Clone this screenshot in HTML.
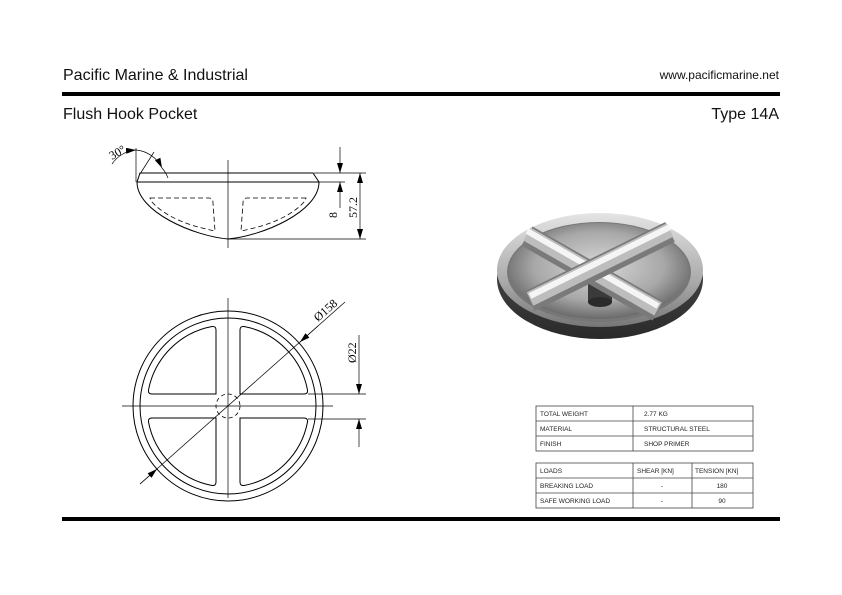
<!DOCTYPE html>
<html><head><meta charset="utf-8"><style>
html,body{margin:0;padding:0;background:#fff;width:842px;height:595px;overflow:hidden}
svg{display:block;font-family:"Liberation Sans",sans-serif}
</style></head><body>
<svg width="842" height="595" viewBox="0 0 842 595" xmlns="http://www.w3.org/2000/svg">
<defs>
<radialGradient id="dish" cx="0.5" cy="0.45" r="0.6">
<stop offset="0" stop-color="#d8d8d8"/><stop offset="0.6" stop-color="#a8a8a8"/><stop offset="1" stop-color="#5a5a5a"/></radialGradient>
<linearGradient id="rim" x1="0" y1="0" x2="0" y2="1">
<stop offset="0" stop-color="#e4e4e4"/><stop offset="0.6" stop-color="#aaa"/><stop offset="1" stop-color="#777"/></linearGradient>
<linearGradient id="base" x1="0" y1="0" x2="0" y2="1">
<stop offset="0" stop-color="#555"/><stop offset="1" stop-color="#2a2a2a"/></linearGradient>
<marker id="ar" viewBox="0 0 10 6" refX="10" refY="3" markerWidth="10" markerHeight="6" orient="auto" markerUnits="userSpaceOnUse">
<path d="M0,0 L10,3 L0,6 z" fill="#000"/></marker>
</defs>

<text x="63" y="80" font-size="16" fill="#111">Pacific Marine &amp; Industrial</text>
<text x="779" y="79" font-size="12" fill="#111" text-anchor="end">www.pacificmarine.net</text>
<rect x="62" y="92" width="718" height="4" fill="#000"/>
<text x="63" y="119" font-size="16" fill="#111">Flush Hook Pocket</text>
<text x="779" y="119" font-size="16" fill="#111" text-anchor="end">Type 14A</text>
<rect x="62" y="517" width="718" height="4" fill="#000"/>

<g fill="none" stroke="#000" stroke-width="1">
<path d="M140,173 L313,173 L319,182 C319,212 262,236 228,239 C194,236 137,212 137,182 Z"/>
<line x1="137" y1="182" x2="319" y2="182"/>
<line x1="228" y1="160" x2="228" y2="248" stroke-width="0.7"/>
<path d="M150,198 L209,198 Q213,198 213,203 L215,231 Q170,222 152,202 Z" stroke-dasharray="5,3" stroke-width="0.8"/>
<path d="M306,198 L247,198 Q243,198 243,203 L241,231 Q286,222 304,202 Z" stroke-dasharray="5,3" stroke-width="0.8"/>
<line x1="136" y1="148" x2="136" y2="182" stroke-width="0.7"/>
<line x1="140" y1="174" x2="154" y2="152" stroke-width="0.7"/>
<path d="M112,164 A32,32 0 0 1 136,150" stroke-width="0.7" marker-end="url(#ar)"/>
<path d="M136,150 A32,32 0 0 1 162,168" stroke-width="0.7" marker-end="url(#ar)"/>
<path d="M162,168 A32,32 0 0 1 168,178" stroke-width="0.7"/>
<line x1="314" y1="173" x2="366" y2="173" stroke-width="0.7"/>
<line x1="319" y1="182" x2="345" y2="182" stroke-width="0.7"/>
<line x1="228" y1="239" x2="366" y2="239" stroke-width="0.7"/>
<line x1="340" y1="147" x2="340" y2="173" stroke-width="0.7" marker-end="url(#ar)"/>
<line x1="340" y1="208" x2="340" y2="182" stroke-width="0.7" marker-end="url(#ar)"/>
<line x1="360" y1="205" x2="360" y2="173" stroke-width="0.7" marker-end="url(#ar)"/>
<line x1="360" y1="205" x2="360" y2="239" stroke-width="0.7" marker-end="url(#ar)"/>

<circle cx="228" cy="406" r="95"/>
<circle cx="228" cy="406" r="88"/>
<g id="q">
<path d="M240,394 L240,330 Q240,326 244,326.5 A80,80 0 0 1 307.5,390 Q308,394 304,394 Z"/>
</g>
<use href="#q" transform="translate(456,0) scale(-1,1)"/>
<use href="#q" transform="translate(0,812) scale(1,-1)"/>
<use href="#q" transform="translate(456,812) scale(-1,-1)"/>
<circle cx="228" cy="406" r="12" stroke-dasharray="4,3" stroke-width="0.8"/>
<line x1="122" y1="406" x2="333" y2="406" stroke-width="0.7"/>
<line x1="228" y1="298" x2="228" y2="498" stroke-width="0.7"/>
<line x1="140" y1="484" x2="345" y2="302" stroke-width="0.7"/>
<line x1="318" y1="326" x2="300" y2="342" stroke-width="0.7" marker-end="url(#ar)"/>
<line x1="140" y1="484" x2="157" y2="469" stroke-width="0.7" marker-end="url(#ar)"/>
<line x1="308" y1="394" x2="366" y2="394" stroke-width="0.7"/>
<line x1="308" y1="419" x2="366" y2="419" stroke-width="0.7"/>
<line x1="359" y1="335" x2="359" y2="394" stroke-width="0.7" marker-end="url(#ar)"/>
<line x1="359" y1="447" x2="359" y2="419" stroke-width="0.7" marker-end="url(#ar)"/>
</g>
<text transform="translate(112,160) rotate(-30)" font-family="Liberation Serif" font-size="12">30°</text>
<text transform="translate(337,218) rotate(-90)" font-family="Liberation Serif" font-size="12">8</text>
<text transform="translate(357,218) rotate(-90)" font-family="Liberation Serif" font-size="12">57.2</text>
<text transform="translate(318,322) rotate(-41)" font-family="Liberation Serif" font-size="12">Ø158</text>
<text transform="translate(356,363) rotate(-90)" font-family="Liberation Serif" font-size="12">Ø22</text>

<ellipse cx="600" cy="279" rx="103" ry="60" fill="url(#base)"/>
<ellipse cx="600" cy="270" rx="103" ry="57" fill="url(#rim)"/>
<ellipse cx="599" cy="272" rx="92" ry="50" fill="#777"/>
<ellipse cx="599" cy="271" rx="90" ry="48" fill="url(#dish)"/>
<rect x="588" y="282" width="24" height="20" fill="#3a3a3a"/>
<ellipse cx="600" cy="302" rx="12" ry="5" fill="#2a2a2a"/>
<g stroke-linecap="butt">
<line x1="527" y1="236" x2="658" y2="311" stroke="#7a7a7a" stroke-width="22"/>
<line x1="527" y1="234" x2="658" y2="309" stroke="#bdbdbd" stroke-width="15"/>
<line x1="527" y1="231" x2="658" y2="306" stroke="#f5f5f5" stroke-width="6"/>
<line x1="670" y1="232" x2="530" y2="301" stroke="#7a7a7a" stroke-width="22"/>
<line x1="670" y1="230" x2="530" y2="299" stroke="#bdbdbd" stroke-width="15"/>
<line x1="670" y1="227" x2="530" y2="296" stroke="#f5f5f5" stroke-width="6"/>
</g>

<g fill="none" stroke="#444" stroke-width="0.8">
<rect x="536" y="406" width="217" height="45"/>
<line x1="536" y1="421" x2="753" y2="421"/><line x1="536" y1="436" x2="753" y2="436"/>
<line x1="633" y1="406" x2="633" y2="451"/>
<rect x="536" y="463" width="217" height="45"/>
<line x1="536" y1="478" x2="753" y2="478"/><line x1="536" y1="493" x2="753" y2="493"/>
<line x1="633" y1="463" x2="633" y2="508"/><line x1="692" y1="463" x2="692" y2="508"/>
</g>
<g font-size="6.5" fill="#222">
<text x="540" y="416">TOTAL WEIGHT</text><text x="644" y="416">2.77 KG</text>
<text x="540" y="431">MATERIAL</text><text x="644" y="431">STRUCTURAL STEEL</text>
<text x="540" y="446">FINISH</text><text x="644" y="446">SHOP PRIMER</text>
<text x="540" y="473">LOADS</text><text x="637" y="473">SHEAR [KN]</text><text x="695" y="473">TENSION [KN]</text>
<text x="540" y="488">BREAKING LOAD</text><text x="662" y="488" text-anchor="middle">-</text><text x="722" y="488" text-anchor="middle">180</text>
<text x="540" y="503">SAFE WORKING LOAD</text><text x="662" y="503" text-anchor="middle">-</text><text x="722" y="503" text-anchor="middle">90</text>
</g>
</svg>
</body></html>
